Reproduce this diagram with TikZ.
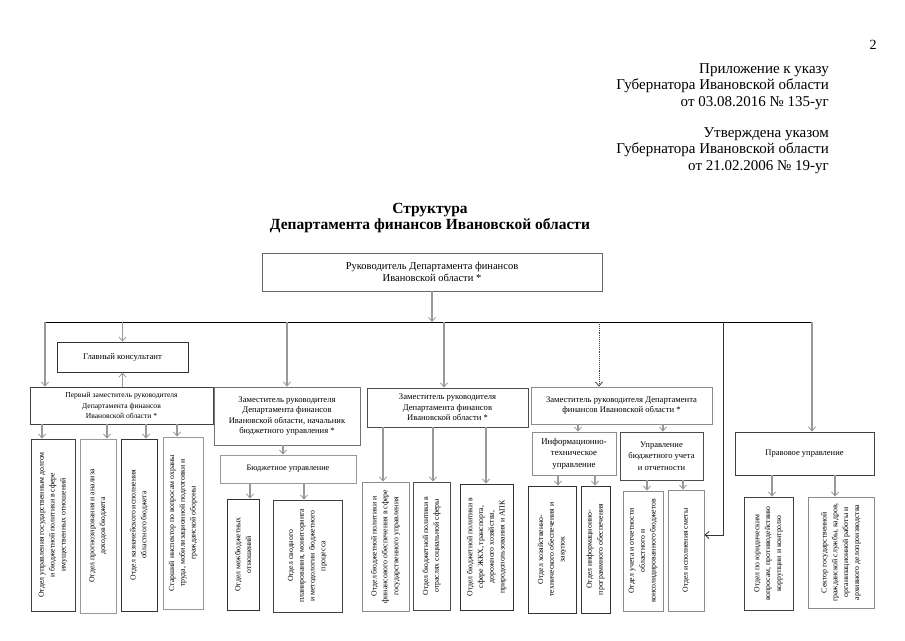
\documentclass[tikz,border=0pt]{standalone}
\usepackage{fontspec}
\setmainfont{Liberation Serif}
\usetikzlibrary{arrows.meta}
\tikzset{
  txt/.style={font=\fontsize{8.6}{10.5}\selectfont},
  vtxt/.style={font=\fontsize{7.8}{10.8}\selectfont},
  bx/.style={draw=#1, line width=0.9pt, inner sep=1pt, align=center, txt},
  bx/.default={black!70},
  vbx/.style={bx=#1, rotate=90, vtxt},
  vbx/.default={black!70},
  arr/.style={draw=black!40, line width=1.2pt, -{Straight Barb[length=4pt,width=7pt,line width=0.8pt]}},
  bus/.style={draw=black, line width=1pt},
}
% drop to an upright box
\newcommand\mydrop[3]{%
  \coordinate (x#1#2) at (#3,0);
  \draw[arr] (#1.south -| x#1#2) -- (#2.north -| x#1#2);}
% drop to a rotated box (its upper side is the east anchor)
\newcommand\mydropv[3]{%
  \coordinate (x#1#2) at (#3,0);
  \draw[arr] (#1.south -| x#1#2) -- (#2.east -| x#1#2);}
\begin{document}
\begin{tikzpicture}[x=1pt,y=-1pt]
\fill[white] (0,0) rectangle (905,640);
\useasboundingbox (0,0) rectangle (905,640);

% header
\node[font=\fontsize{14}{16.5}\selectfont] (pg) at (873,45) {2};
\node[anchor=north east, inner sep=0pt, align=right, font=\fontsize{15}{16.5}\selectfont] (hdrA) at (829,63)
  {Приложение к указу\\Губернатора Ивановской области\\от 03.08.2016 № 135-уг};
\node[anchor=north east, inner sep=0pt, align=right, font=\fontsize{15}{16.5}\selectfont] (hdrB) at (829,127)
  {Утверждена указом\\Губернатора Ивановской области\\от 21.02.2006 № 19-уг};
\node[align=center, font=\bfseries\fontsize{15.5}{16.5}\selectfont] (title) at (430,218)
  {Структура\\Департамента финансов Ивановской области};

% upper boxes
\node[bx=black!60, minimum width=340pt, minimum height=38pt, font=\fontsize{10.5}{12}\selectfont] (top) at (432,272)
  {Руководитель Департамента финансов\\Ивановской области *};
\node[bx=black!80, minimum width=131pt, minimum height=30pt, font=\fontsize{8.7}{10.5}\selectfont] (gk) at (122.5,357) {Главный консультант};
\node[bx=black!75, minimum width=183pt, minimum height=37pt, font=\fontsize{7.6}{10.5}\selectfont] (d1) at (121.5,405.5)
  {Первый заместитель руководителя\\Департамента финансов\\Ивановской области *};
\node[bx=black!55, minimum width=146pt, minimum height=58pt] (d2) at (287,416)
  {Заместитель руководителя\\Департамента финансов\\Ивановской области, начальник\\бюджетного управления *};
\node[bx=black!70, minimum width=161pt, minimum height=39pt] (d3) at (447.5,407.5)
  {Заместитель руководителя\\Департамента финансов\\Ивановской области *};
\node[bx=black!45, minimum width=181pt, minimum height=37pt] (d4) at (621.5,405.5)
  {Заместитель руководителя Департамента\\финансов Ивановской области *};
\node[bx=black!40, minimum width=136pt, minimum height=28pt, font=\fontsize{8.3}{10.5}\selectfont] (bu) at (288,469) {Бюджетное управление};
\node[bx=black!45, minimum width=84pt, minimum height=43pt, font=\fontsize{8.8}{11.5}\selectfont] (it) at (574,453.5)
  {Информационно-\\техническое\\управление};
\node[bx=black!70, minimum width=83pt, minimum height=48pt, font=\fontsize{8.5}{11.5}\selectfont] (uu) at (661.5,456)
  {Управление\\бюджетного учета\\и отчетности};
\node[bx=black!75, minimum width=139pt, minimum height=43pt, font=\fontsize{8.5}{10.5}\selectfont] (pu) at (804.5,453.5) {Правовое управление};

% lower (rotated) boxes
\node[vbx=black!75, minimum width=172pt, minimum height=44pt] (b1) at (53,525)
  {Отдел управления государственным долгом\\и бюджетной политики в сфере\\имущественных отношений};
\node[vbx=black!40, minimum width=174pt, minimum height=36pt] (b2) at (98,526)
  {Отдел прогнозирования и анализа\\доходов бюджета};
\node[vbx=black!80, minimum width=172pt, minimum height=36pt] (b3) at (139,525)
  {Отдел казначейского исполнения\\областного бюджета};
\node[vbx=black!40, minimum width=172pt, minimum height=40pt] (b4) at (183,523)
  {Старший инспектор по вопросам охраны\\труда, мобилизационной подготовки и\\гражданской обороны};
\node[vbx=black!80, minimum width=111pt, minimum height=32pt] (b5) at (243,554.5)
  {Отдел межбюджетных\\отношений};
\node[vbx=black!75, minimum width=112pt, minimum height=69pt] (b6) at (307.5,556)
  {Отдел сводного\\планирования, мониторинга\\и методологии бюджетного\\процесса};
\node[vbx=black!45, minimum width=129pt, minimum height=47pt] (b7) at (385.5,546.5)
  {Отдел бюджетной политики и\\финансового обеспечения в сфере\\государственного управления};
\node[vbx=black!70, minimum width=128pt, minimum height=37pt] (b8) at (431.5,546)
  {Отдел бюджетной политики в\\отраслях социальной сферы};
\node[vbx=black!80, minimum width=126pt, minimum height=53pt] (b9) at (486.5,547)
  {Отдел бюджетной политики в\\сфере ЖКХ, транспорта,\\дорожного хозяйства,\\природопользования и АПК};
\node[vbx=black!80, minimum width=127pt, minimum height=48pt] (b10) at (552,549.5)
  {Отдел хозяйственно-\\технического обеспечения и\\закупок};
\node[vbx=black!80, minimum width=127pt, minimum height=29pt] (b11) at (595.5,549.5)
  {Отдел информационно-\\программного обеспечения};
\node[vbx=black!45, minimum width=120pt, minimum height=40pt] (b12) at (643,551)
  {Отдел учета и отчетности\\областного и\\консолидированного бюджетов};
\node[vbx=black!45, minimum width=121pt, minimum height=36pt] (b13) at (686,550.5)
  {Отдел исполнения сметы};
\node[vbx=black!75, minimum width=113pt, minimum height=49pt] (b14) at (768.5,553.5)
  {Отдел по юридическим\\вопросам, противодействию\\коррупции и контролю};
\node[vbx=black!45, minimum width=111pt, minimum height=66pt] (b15) at (841,552.5)
  {Сектор государственной\\гражданской службы, кадров,\\организационной работы и\\архивного делопроизводства};

% bus
\coordinate (tA) at (45,322);
\coordinate (tB) at (122.5,322);
\coordinate (tC) at (287,322);
\coordinate (tD) at (444,322);
\coordinate (tE) at (599,322);
\coordinate (tF) at (723,322);
\coordinate (tG) at (812,322);
\coordinate (tTop) at (432,322);
\coordinate (k13) at (b13.south |- 0,535);
\draw[bus] (tA) -- (tG);
\draw[arr] (top.south) -- (tTop);
\draw[arr] (tA) -- (tA |- d1.north);
\draw[arr] (tB) -- (gk.north);
\draw[arr] (gk.south |- d1.north) -- (gk.south);
\draw[arr] (tC) -- (d2.north);
\draw[arr] (tD) -- (tD |- d3.north);
\draw[arr, draw=black!75, line width=0.9pt, densely dotted] (tE) -- (tE |- d4.north);
\draw[arr, draw=black!80, line width=0.8pt] (tF) |- (k13);
\draw[arr] (tG) -- (tG |- pu.north);

% drops
\mydropv{d1}{b1}{42}
\mydropv{d1}{b2}{107}
\mydropv{d1}{b3}{146}
\mydropv{d1}{b4}{177}
\mydrop{d2}{bu}{283}
\mydropv{bu}{b5}{250}
\mydropv{bu}{b6}{304}
\mydropv{d3}{b7}{383}
\mydropv{d3}{b8}{433}
\mydropv{d3}{b9}{486}
\mydrop{d4}{it}{578}
\mydrop{d4}{uu}{663}
\mydropv{it}{b10}{558}
\mydropv{it}{b11}{595}
\mydropv{uu}{b12}{647}
\mydropv{uu}{b13}{683}
\mydropv{pu}{b14}{772}
\mydropv{pu}{b15}{835}
\end{tikzpicture}
\end{document}
